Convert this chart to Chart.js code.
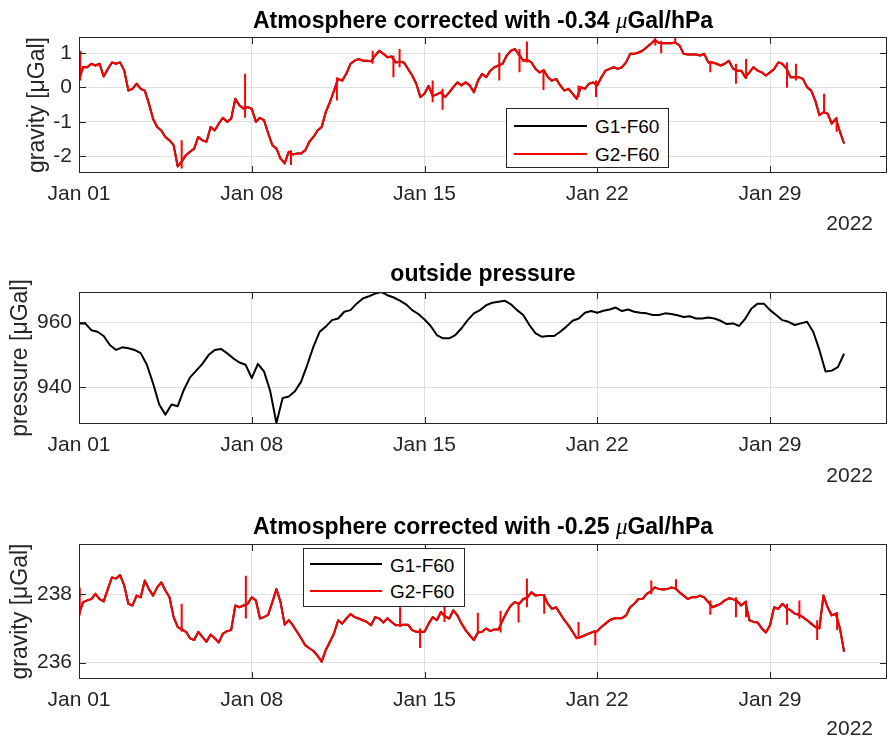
<!DOCTYPE html>
<html><head><meta charset="utf-8">
<script src="https://cdn.jsdelivr.net/npm/chart.js@4.4.0/dist/chart.umd.min.js"></script>
<style>
body{margin:0;background:#fff;width:889px;height:738px;overflow:hidden;position:relative;font-family:"Liberation Sans",Arial,sans-serif;}
canvas{position:absolute;left:0;}
.title{position:absolute;left:79px;width:808px;text-align:center;font-weight:bold;font-size:23px;line-height:23px;color:#000;white-space:nowrap;}
.mu{font-family:"Liberation Serif","DejaVu Serif",serif;font-style:italic;font-weight:normal;}
.year{position:absolute;right:16px;font-size:21px;line-height:21px;color:#262626;}
.legend{position:absolute;box-sizing:border-box;border:1px solid #262626;background:#fff;}
.legend .ln{position:absolute;height:2px;}
.legend .tx{position:absolute;font-size:19px;line-height:19px;color:#000;white-space:nowrap;}
</style></head>
<body>
<canvas id="c1" width="889" height="246" style="top:0px"></canvas>
<canvas id="c2" width="889" height="250" style="top:246px"></canvas>
<canvas id="c3" width="889" height="242" style="top:496px"></canvas>
<div class="title" style="top:9px">Atmosphere corrected with -0.34 <span class="mu">μ</span>Gal/hPa</div>
<div class="title" style="top:262px">outside pressure</div>
<div class="title" style="top:515px">Atmosphere corrected with -0.25 <span class="mu">μ</span>Gal/hPa</div>
<div class="year" style="top:212px">2022</div>
<div class="year" style="top:464px">2022</div>
<div class="year" style="top:717px">2022</div>
<div id="leg1" class="legend" style="left:506px;top:108px;width:163px;height:60px"></div>
<div id="leg3" class="legend" style="left:303px;top:548px;width:162px;height:59px"></div>
<script>
// ---------- data ----------
// x axis: days since Jan 01 2022
const xTickDays   = [0, 7, 14, 21, 28];
const xTickLabels = ['Jan 01', 'Jan 08', 'Jan 15', 'Jan 22', 'Jan 29'];
const seriesLabels = ['G1-F60', 'G2-F60'];
const seriesColors = ['#000000', '#ff0000'];

// gravity samples every 4 hours (1/6 day), Jan 01 00:00 .. Feb 01 00:00
const gravStep = 1 / 6;
// panel 1: atmosphere corrected with -0.34 uGal/hPa (G2-F60, red)
const g2Corr034 = [
 0.22,0.6,0.59,0.69,0.64,0.69, 0.32,0.54,0.73,0.69,0.73,0.49,
 -0.09,-0.04,0.11,-0.04,-0.09,-0.47, -0.91,-1.15,-1.25,-1.44,-1.54,-1.68,
 -2.3,-2.15,-1.97,-1.87,-1.78,-1.44, -1.54,-1.58,-1.15,-1.25,-1.05,-0.88,
 -1.0,-0.91,-0.33,-0.52,-0.62,-0.57, -0.62,-1.0,-0.88,-0.96,-1.34,-1.68,
 -1.78,-2.07,-2.21,-1.87,-1.95,-1.92, -1.92,-1.83,-1.58,-1.44,-1.25,-1.15,
 -0.71,-0.43,-0.09,0.25,0.2,0.4, 0.69,0.78,0.83,0.78,0.78,0.76,
 0.93,1.07,0.98,0.88,0.9,0.73, 0.75,0.73,0.54,0.35,0.11,-0.28,
 -0.18,0.05,-0.25,-0.2,-0.14,-0.28, -0.14,0.01,0.15,0.06,0.15,0.06,
 -0.14,0.2,0.4,0.3,0.49,0.59, 0.64,0.69,0.93,1.07,1.12,0.95,
 0.78,0.8,0.73,0.54,0.44,0.5, 0.3,0.2,0.25,0.06,-0.09,-0.04,
 -0.18,-0.33,0.01,-0.04,0.11,0.15, 0.06,0.3,0.49,0.54,0.59,0.54,
 0.59,0.73,0.98,0.98,1.02,1.07, 1.17,1.27,1.38,1.3,1.29,1.29,
 1.29,1.31,1.22,0.98,0.96,0.96, 0.96,0.93,0.98,0.73,0.73,0.69,
 0.64,0.69,0.78,0.55,0.49,0.49, 0.3,0.44,0.59,0.49,0.44,0.35,
 0.44,0.54,0.73,0.69,0.55,0.3, 0.3,0.3,0.25,0.01,-0.09,-0.38,
 -0.81,-0.72,-0.76,-1.05,-0.91,-1.29, -1.63];
// G1-F60 (black) lies directly under the red G2 curve in the picture
const g1Corr034 = [...g2Corr034];
// short single-sample outliers of the red curve: day, low end, high end
const spikeDays034 = [0.05,4.16,6.73,8.59,10.45,11.9,12.74,12.99,14.33,14.73,17.03,17.85,18.15,18.82,20.24,20.95,23.35,23.59,24.16,25.58,26.62,27.03,28.69,29.05,30.19,30.70];
const spikeLo034   = [0.2,-2.36,-0.88,-2.26,-0.38,0.69,0.3,0.59,-0.43,-0.65,0.2,0.44,0.73,-0.07,-0.28,-0.28,1.22,1.0,1.27,0.44,0.11,0.25,-0.01,0.2,-0.76,-1.29];
const spikeHi034   = [1.07,-1.54,0.40,-1.83,0.3,1.07,0.93,1.12,0.2,-0.04,1.02,1.12,1.34,0.54,0.06,0.2,1.48,1.36,1.48,0.78,0.69,0.83,0.73,0.69,-0.18,-0.86];

// panel 3: atmosphere corrected with -0.25 uGal/hPa (G2-F60, red)
const g2Corr025 = [
 237.43,237.77,237.82,237.86,238.01,237.86, 237.79,238.15,238.49,238.46,238.56,238.25,
 237.72,237.67,237.96,237.91,238.40,238.15, 237.96,238.20,238.35,238.11,237.91,237.33,
 237.04,236.97,236.90,236.71,236.66,236.90, 236.75,236.61,236.82,236.71,236.59,236.85,
 236.92,236.95,237.67,237.62,237.67,237.72, 237.91,237.82,237.29,237.33,237.40,237.77,
 238.15,237.77,237.11,237.24,237.09,236.90, 236.71,236.51,236.42,236.34,236.20,236.03,
 236.37,236.61,236.85,237.24,237.14,237.29, 237.42,237.33,237.29,237.24,237.19,237.09,
 237.33,237.29,237.17,237.30,237.19,237.09, 237.10,237.11,237.11,236.95,236.90,236.90,
 236.90,237.14,237.33,237.24,237.48,237.35, 237.29,237.53,237.38,237.14,236.95,236.80,
 236.66,236.88,236.90,237.00,236.92,236.97, 236.97,237.24,237.48,237.67,237.77,237.72,
 237.86,237.90,238.06,237.96,237.98,237.98, 237.72,237.57,237.62,237.43,237.24,237.09,
 236.90,236.71,236.75,236.80,236.85,236.90, 236.92,237.04,237.14,237.24,237.29,237.30,
 237.30,237.38,237.62,237.72,237.86,237.86, 238.01,238.08,238.20,238.15,238.14,238.15,
 238.20,238.17,238.06,237.96,237.86,237.91, 237.91,237.96,237.91,237.77,237.62,237.67,
 237.72,237.82,237.88,237.86,237.80,237.67, 237.77,237.24,237.19,237.17,237.00,236.88,
 237.09,237.62,237.57,237.72,237.60,237.53, 237.43,237.40,237.33,237.24,237.14,237.04,
 237.00,237.96,237.62,237.38,237.43,237.00, 236.32];
const g1Corr025 = [...g2Corr025];
const spikeDays025 = [0.03,4.16,6.76,13.01,13.82,14.81,16.16,17.08,17.81,18.15,18.85,20.24,20.92,23.19,24.19,25.58,26.62,27.03,28.69,29.19,29.91,30.72];
const spikeLo025   = [237.38,236.9,237.29,237.04,236.43,237.19,236.9,236.88,237.17,237.62,237.43,236.71,236.51,238.0,238.15,237.4,237.33,237.33,237.11,237.28,236.66,236.95];
const spikeHi025   = [238.2,237.72,238.54,237.62,237.0,237.82,237.46,237.52,237.77,238.46,238.0,237.19,236.95,238.4,238.44,237.82,237.91,237.82,237.72,237.82,237.24,237.48];

// panel 2: outside pressure, samples every 6 hours
const presStep = 0.25;
const pressure = [
 959.7,959.7,957.6,957.1, 955.8,953.0,951.5,952.3, 952.0,951.5,950.5,946.9,
 941.2,934.6,931.5,934.6, 934.1,939.2,943.0,945.1, 947.2,949.9,951.5,951.8,
 950.5,948.9,947.6,946.9, 942.8,947.2,944.8,938.7, 928.9,936.6,937.1,938.7,
 941.7,946.9,952.5,957.1, 958.7,960.7,961.2,963.3, 963.8,965.8,967.4,968.1,
 968.9,969.4,968.4,967.7, 966.7,965.6,963.8,962.6, 960.9,958.9,956.1,955.1,
 955.1,956.1,958.2,960.7, 962.8,963.8,965.3,966.1, 966.4,966.7,965.6,963.8,
 962.3,959.2,956.6,955.6, 955.8,955.8,957.1,958.7, 960.5,961.2,963.0,963.5,
 963.0,963.6,964.0,964.6, 963.5,964.0,963.3,963.0, 962.8,962.3,962.3,962.8,
 962.6,962.2,961.7,961.9, 961.2,961.2,961.5,961.2, 960.5,959.5,959.7,958.9,
 961.2,964.3,965.8,965.8, 963.8,962.3,960.7,960.2, 959.2,959.7,960.2,957.1,
 951.5,944.8,945.1,946.2, 950.3];

const yTicks1 = [-2, -1, 0, 1];
const yTicks2 = [940, 960];
const yTicks3 = [236, 238];

// ---------- drawing ----------
const FONT = '"Liberation Sans", Arial, sans-serif';
Chart.defaults.font.family = FONT;
const toPts = (vals, step) => vals.map((v, i) => ({x: i * step, y: v}));
const toSpikes = (days, lo, hi) => days.flatMap((d, i) => [{x: d, y: lo[i]}, {x: d, y: hi[i]}, {x: d, y: null}]);

const boxPlugin = {
  id: 'matlabBox',
  afterDatasetsDraw(chart) {
    const {ctx, chartArea: a, scales: {x, y}} = chart;
    const L = 7;
    ctx.save();
    ctx.strokeStyle = '#262626';
    ctx.lineWidth = 1;
    ctx.beginPath();
    x.ticks.forEach(t => {
      const px = Math.round(x.getPixelForValue(t.value)) + 0.5;
      ctx.moveTo(px, a.bottom); ctx.lineTo(px, a.bottom - L);
      ctx.moveTo(px, a.top); ctx.lineTo(px, a.top + L);
    });
    y.ticks.forEach(t => {
      const py = Math.round(y.getPixelForValue(t.value)) + 0.5;
      ctx.moveTo(a.left, py); ctx.lineTo(a.left + L, py);
      ctx.moveTo(a.right, py); ctx.lineTo(a.right - L, py);
    });
    ctx.stroke();
    ctx.strokeRect(Math.round(a.left) + 0.5, Math.round(a.top) + 0.5,
                   Math.round(a.right - a.left) - 1, Math.round(a.bottom - a.top) - 1);
    ctx.restore();
  }
};

function makeChart(id, datasets, yMin, yMax, yTicks, yTitle, padTop, xHeight, titlePad) {
  return new Chart(document.getElementById(id), {
    type: 'line',
    data: {datasets},
    options: {
      responsive: false, animation: false, devicePixelRatio: 1, events: [],
      layout: {padding: {left: 0, right: 2, top: padTop, bottom: 0}},
      plugins: {legend: {display: false}, title: {display: false}, tooltip: {enabled: false}},
      elements: {point: {radius: 0}, line: {borderWidth: 2, tension: 0, borderJoinStyle: 'round'}},
      scales: {
        x: {
          type: 'linear', min: 0, max: 32.74,
          afterBuildTicks: s => { s.ticks = xTickDays.map(v => ({value: v})); },
          afterFit: s => { s.height = xHeight; },
          ticks: {font: {size: 21, family: FONT}, color: '#262626', padding: 9,
                  maxRotation: 0, autoSkip: false, callback: (v, i) => xTickLabels[i]},
          grid: {color: '#dfdfdf', lineWidth: 1, drawTicks: false},
          border: {display: false}
        },
        y: {
          type: 'linear', min: yMin, max: yMax,
          afterBuildTicks: s => { s.ticks = yTicks.map(v => ({value: v})); },
          afterFit: s => { s.width = 79; },
          ticks: {font: {size: 21, family: FONT}, color: '#262626', padding: 7,
                  callback: v => String(v)},
          grid: {color: '#dfdfdf', lineWidth: 1, drawTicks: false},
          border: {display: false},
          title: {display: true, text: yTitle, color: '#262626',
                  font: {size: 23, family: FONT, lineHeight: 1},
                  padding: {top: titlePad, bottom: 0}}
        }
      }
    },
    plugins: [boxPlugin]
  });
}

function gravSets(g1, g2, sDays, sLo, sHi) {
  return [
    {label: seriesLabels[1], data: toPts(g2, gravStep), borderColor: seriesColors[1], order: 0},
    {label: seriesLabels[1] + ' outliers', data: toSpikes(sDays, sLo, sHi), borderColor: seriesColors[1],
     borderCapStyle: 'butt', spanGaps: false, order: 0},
    {label: seriesLabels[0], data: toPts(g1, gravStep), borderColor: seriesColors[0], order: 1}
  ];
}

makeChart('c1', gravSets(g1Corr034, g2Corr034, spikeDays034, spikeLo034, spikeHi034),
          -2.49, 1.47, yTicks1, 'gravity [μGal]', 37, 73, 26.5);
makeChart('c2', [{label: 'pressure', data: toPts(pressure, presStep), borderColor: '#000000'}],
          928.6, 969.4, yTicks2, 'pressure [μGal]', 46, 72, 9.5);
makeChart('c3', gravSets(g1Corr025, g2Corr025, spikeDays025, spikeLo025, spikeHi025),
          235.52, 239.47, yTicks3, 'gravity [μGal]', 48, 59, 9.5);

function buildLegend(id, lineTops, lineLeft, lineW, textLeft, textTops) {
  const el = document.getElementById(id);
  seriesLabels.forEach((lab, i) => {
    const ln = document.createElement('div');
    ln.className = 'ln';
    ln.style.cssText = `left:${lineLeft}px;top:${lineTops[i]}px;width:${lineW}px;background:${seriesColors[i]}`;
    el.appendChild(ln);
    const tx = document.createElement('div');
    tx.className = 'tx';
    tx.style.cssText = `left:${textLeft}px;top:${textTops[i]}px`;
    tx.textContent = lab;
    el.appendChild(tx);
  });
}
buildLegend('leg1', [16, 44], 7, 73, 88, [8, 36]);
buildLegend('leg3', [14, 41], 6, 72, 86, [7, 33]);
</script>
</body></html>
